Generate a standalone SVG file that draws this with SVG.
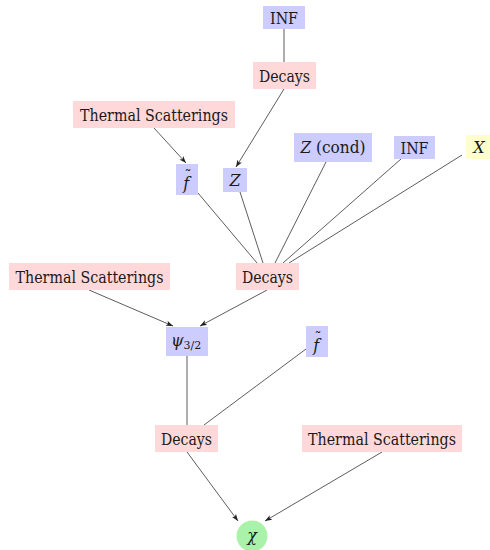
<svg xmlns="http://www.w3.org/2000/svg" width="490" height="550" viewBox="0 0 490 550">
<defs>
<style>
.b{fill:#ccccff}
.p{fill:#ffd9d9}
.y{fill:#ffffcc}
.g{fill:#aaf2aa}
text{font-family:'DejaVu Serif','Liberation Serif',serif;font-size:16px;fill:#1a1a1a;text-anchor:middle}
.m{font-style:italic}
.s{text-anchor:start}
.t{font-size:14px;font-style:normal}
.e line{stroke:#333;stroke-width:0.8;fill:none}
.a{marker-end:url(#ah)}
</style>
<marker id="ah" viewBox="0 0 8 6" refX="8" refY="3" markerWidth="7" markerHeight="5.5" markerUnits="userSpaceOnUse" orient="auto">
<path d="M0,0 L8,3 L0,6 L2,3 Z" fill="#222"/>
</marker>
</defs>
<rect width="490" height="550" fill="#fff"/>
<g class="e" id="edges">
<line x1="284" y1="29" x2="284" y2="62"/>
<line class="a" x1="284" y1="89" x2="236" y2="167"/>
<line class="a" x1="154" y1="128" x2="186" y2="163"/>
<line x1="198" y1="193" x2="257" y2="263"/>
<line x1="240" y1="192" x2="263" y2="263"/>
<line x1="326" y1="162" x2="275" y2="263"/>
<line x1="401" y1="159" x2="283" y2="263"/>
<line x1="462" y1="155" x2="289" y2="263"/>
<line class="a" x1="89" y1="290" x2="173" y2="326"/>
<line class="a" x1="267" y1="290" x2="200" y2="326"/>
<line x1="187" y1="356" x2="187" y2="425"/>
<line x1="306" y1="349" x2="204" y2="425"/>
<line class="a" x1="187" y1="452" x2="238" y2="521"/>
<line class="a" x1="382" y1="452" x2="265" y2="521"/>
</g>
<g id="inf1"><rect class="b" x="263" y="6" width="42" height="23"/><text x="284" y="23.5" textLength="28" lengthAdjust="spacingAndGlyphs">INF</text></g>
<g id="dec1"><rect class="p" x="253" y="62" width="63" height="27"/><text x="284.5" y="81.5" textLength="51" lengthAdjust="spacingAndGlyphs">Decays</text></g>
<g id="th1"><rect class="p" x="73" y="101" width="162" height="27"/><text x="154" y="120.5" textLength="148" lengthAdjust="spacingAndGlyphs">Thermal Scatterings</text></g>
<g id="f1"><rect class="b" x="176" y="164" width="22" height="31"/><text class="m s" x="183.3" y="189">f<tspan class="t" dx="-4.7" dy="-8">˜</tspan></text></g>
<g id="z1"><rect class="b" x="223" y="168" width="24" height="24"/><text class="m" x="235" y="186">Z</text></g>
<g id="zc"><rect class="b" x="294" y="133" width="78" height="29"/><text x="333" y="153" textLength="65" lengthAdjust="spacingAndGlyphs"><tspan class="m">Z</tspan> (cond)</text></g>
<g id="inf2"><rect class="b" x="394" y="136" width="41" height="23"/><text x="414.5" y="153.5" textLength="28" lengthAdjust="spacingAndGlyphs">INF</text></g>
<g id="x"><rect class="y" x="466" y="135" width="26" height="24"/><text class="m" x="479" y="153">X</text></g>
<g id="dec2"><rect class="p" x="236" y="263" width="63" height="27"/><text x="267.5" y="282.5" textLength="51" lengthAdjust="spacingAndGlyphs">Decays</text></g>
<g id="th2"><rect class="p" x="9" y="263" width="161" height="27"/><text x="89.5" y="282.5" textLength="148" lengthAdjust="spacingAndGlyphs">Thermal Scatterings</text></g>
<g id="psi"><rect class="b" x="166" y="327" width="42" height="29"/><text x="186" y="346"><tspan class="m">ψ</tspan><tspan font-size="11" dy="3">3/2</tspan></text></g>
<g id="f2"><rect class="b" x="306" y="326" width="22" height="31"/><text class="m s" x="313.3" y="351">f<tspan class="t" dx="-4.7" dy="-8">˜</tspan></text></g>
<g id="dec3"><rect class="p" x="155" y="425" width="63" height="27"/><text x="186.5" y="444.5" textLength="51" lengthAdjust="spacingAndGlyphs">Decays</text></g>
<g id="th3"><rect class="p" x="302" y="425" width="160" height="27"/><text x="382" y="444.5" textLength="148" lengthAdjust="spacingAndGlyphs">Thermal Scatterings</text></g>
<g id="chi"><circle class="g" cx="252" cy="536" r="15.5"/><text class="m" x="252" y="541">χ</text></g>
</svg>
